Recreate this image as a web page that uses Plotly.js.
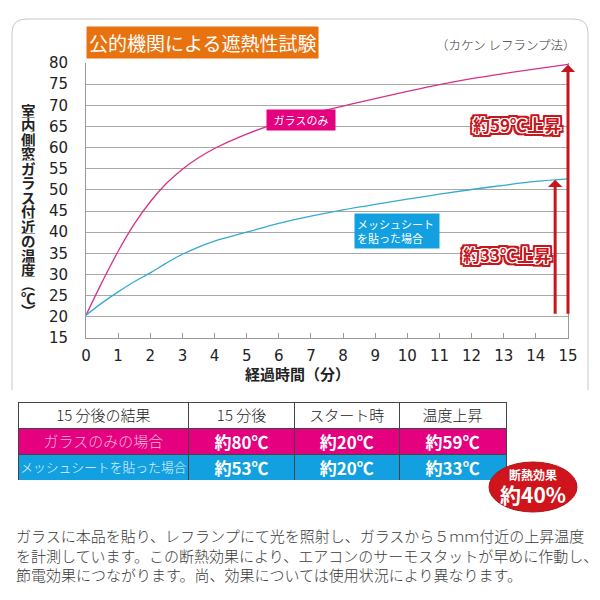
<!DOCTYPE html>
<html><head><meta charset="utf-8">
<script src="https://cdn.plot.ly/plotly-3.0.1.min.js"></script>
<style>html,body{margin:0;padding:0;background:#fff}#chart{width:600px;height:600px}</style>
</head><body><div id="chart"></div>
<script>
// ---- data ----
const minutes   = [0,0.5,1,1.5,2,2.5,3,3.5,4,5,6,7,8,9,10,11,12,13,14,15];
const glassOnly = [20.4,28.2,35.5,41.9,47.2,51.5,54.9,57.6,59.8,63.2,65.9,68,69.8,71.6,73.3,74.9,76.3,77.5,78.6,79.7];
const meshSheet = [20.4,23.3,25.9,28.3,30.4,32.7,34.8,36.5,37.9,40,42.1,43.8,45.3,46.6,47.8,49,50.1,51.1,52,52.6];
const seriesNames = ['ガラスのみ','メッシュシート<br>を貼った場合'];
const xTickVals = [0,1,2,3,4,5,6,7,8,9,10,11,12,13,14,15];
const yTickVals = [15,20,25,30,35,40,45,50,55,60,65,70,75,80];
const riseArrowX    = [15, 14.6];
const riseArrowFrom = [20.4, 20.4];
const riseArrowTo   = [79.6, 52.4];
const riseLabels    = ['約59℃上昇','約33℃上昇'];
const tableHeader = ['15 分後の結果','15 分後','スタート時','温度上昇'];
const caseLabels  = ['ガラスのみの場合','メッシュシートを貼った場合'];
const tempAfter15 = [80,53];
const tempStart   = [20,20];
const tempRise    = [59,33];
const effectLabel = ['断熱効果','約40%'];
const chartTitle = '公的機関による遮熱性試験';
const methodNote = '（カケン レフランプ法）';
const yTitle = '室内側窓ガラス付近の温度︵℃︶';
const xTitle = '経過時間（分）';
const bodyText = 'ガラスに本品を貼り、レフランプにて光を照射し、ガラスから５ｍｍ付近の上昇温度<br>を計測しています。この断熱効果により、エアコンのサーモスタットが早めに作動し、<br>節電効果につながります。尚、効果については使用状況により異なります。';

// ---- styling ----
const JP = '"Noto Sans CJK JP", "Noto Sans", sans-serif';
const MAG = '#e4007f', CYAN = '#12a0e0', RED = '#c8161d';
const PX = (px) => px/600, PY = (py) => 1 - py/600;
const fmt = v => '約' + v + '℃';
const nb = s => s.replace(/ /g, '\u00a0');

const traces = [
  {x: minutes, y: glassOnly, type:'scatter', mode:'lines', line:{color:'#d6318a', width:1.3, shape:'spline', smoothing:1}, hoverinfo:'skip', showlegend:false},
  {x: minutes, y: meshSheet, type:'scatter', mode:'lines', line:{color:'#35aad0', width:1.3, shape:'spline', smoothing:1}, hoverinfo:'skip', showlegend:false},
  {type:'table',
   domain:{x:[PX(18), PX(507)], y:[PY(480), PY(402)]},
   columnwidth:[171,106,105,107],
   header:{values: tableHeader.map(nb), height:26, align:'center',
           fill:{color:'#ffffff'}, line:{color:'#444', width:1},
           font:{family:JP, size:15, color:'#222', weight:300}},
   cells:{values:[caseLabels, tempAfter15.map(fmt), tempStart.map(fmt), tempRise.map(fmt)],
          height:26, align:'center',
          fill:{color:[[MAG,CYAN],[MAG,CYAN],[MAG,CYAN],[MAG,CYAN]]},
          line:{color:'#444', width:1},
          font:{family:JP, size:[[15,12.8],17,17,17], color:[['#f8b4d8','#e6f6ff'],'#fff','#fff','#fff'], weight:[300,700,700,700]}}
  }
];

const ann = [];
// title box
ann.push({xref:'paper', yref:'paper', x:PX(86), y:PY(42), xanchor:'left', yanchor:'middle', text:chartTitle, showarrow:false,
  bgcolor:'#e8720e', borderpad:2, font:{family:JP, size:19, color:'#fff'}});
ann.push({xref:'paper', yref:'paper', x:PX(506), y:PY(44), xanchor:'center', yanchor:'middle', text:methodNote, showarrow:false,
  font:{family:JP, size:12.5, color:'#333', weight:300}});
// vertical y title (upright characters stacked)
const yChars = Array.from(yTitle);
const yPos = [110,124.5,139,153.5,168,182.5,197,211.5,226,240.5,255,269.5,283.5,297,310.5];
yChars.forEach((ch,i) => ann.push({xref:'paper', yref:'paper', x:PX(28), y:PY(yPos[i]), xanchor:'center', yanchor:'middle',
  text:ch, showarrow:false, height:14.5, font:{family:JP, size:14.5, color:'#222', weight:700}}));
// x title
ann.push({xref:'paper', yref:'paper', x:PX(297), y:PY(373), xanchor:'center', yanchor:'middle', text:xTitle, showarrow:false,
  font:{family:JP, size:15, color:'#222', weight:700}});
// series labels
ann.push({xref:'paper', yref:'paper', x:PX(301), y:PY(119.5), xanchor:'center', yanchor:'middle', text:seriesNames[0], showarrow:false,
  bgcolor:MAG, borderpad:2, width:64, font:{family:JP, size:11, color:'#fff'}});
ann.push({xref:'paper', yref:'paper', x:PX(397), y:PY(230.5), xanchor:'center', yanchor:'middle', text:seriesNames[1], showarrow:false,
  bgcolor:CYAN, borderpad:2, width:80, align:'left', font:{family:JP, size:11, color:'#fff'}});
// rise arrows
riseArrowX.forEach((xv,i) => ann.push({xref:'x', yref:'y', axref:'x', ayref:'y', x:xv, y:riseArrowTo[i], ax:xv, ay:riseArrowFrom[i],
  text:'', showarrow:true, arrowhead:1, arrowsize:0.8, arrowwidth:3, arrowcolor:RED, standoff:0, startstandoff:0}));
// rise labels (sticker style)
const dirs = [[1,0],[-1,0],[0,1],[0,-1],[1,1],[-1,1],[1,-1],[-1,-1]];
const shadow = dirs.map(d=>`${d[0]*1.2}px ${d[1]*1.2}px 0 #fff`)
  .concat(dirs.map(d=>`${d[0]*3.2}px ${d[1]*3.2}px 0 ${RED}`))
  .concat([[2,1],[1,2],[-2,1],[-1,2],[2,-1],[1,-2],[-2,-1],[-1,-2]].map(d=>`${d[0]*1.6}px ${d[1]*1.6}px 0 ${RED}`)).join(', ');
const labelPos = [[517,124],[507,254]];
riseLabels.forEach((t,i) => ann.push({xref:'paper', yref:'paper', x:PX(labelPos[i][0]), y:PY(labelPos[i][1]), xanchor:'center', yanchor:'middle',
  text:t, showarrow:false, font:{family:JP, size:17, color:RED, weight:700, shadow:shadow}}));
// effect badge texts
ann.push({xref:'paper', yref:'paper', x:PX(533), y:PY(474), xanchor:'center', yanchor:'middle', text:effectLabel[0], showarrow:false,
  font:{family:JP, size:12, color:'#fff', weight:700}});
ann.push({xref:'paper', yref:'paper', x:PX(533), y:PY(494), xanchor:'center', yanchor:'middle', text:effectLabel[1], showarrow:false,
  font:{family:JP, size:21, color:'#fff', weight:700}});
// body paragraph
ann.push({xref:'paper', yref:'paper', x:PX(14), y:PY(555), xanchor:'left', yanchor:'middle', align:'left', text:bodyText, showarrow:false,
  font:{family:JP, size:15, color:'#3a3a3a', weight:300}});

const f = (px,py) => `${PX(px)},${PY(py)}`;
const shapes = [
  {type:'path', xref:'paper', yref:'paper', layer:'below',
   path:`M ${f(12,390)} L ${f(12,33)} Q ${f(12,19)} ${f(26,19)} L ${f(574,19)} Q ${f(588,19)} ${f(588,33)} L ${f(588,390)}`,
   line:{color:'#c9c9c9', width:1}},
  {type:'circle', xref:'paper', yref:'paper', layer:'above', x0:PX(489), x1:PX(577), y0:PY(512), y1:PY(462),
   fillcolor:'#d0141c', line:{color:'#b01016', width:1}}
];

const layout = {
  width:600, height:600, margin:{l:0,r:0,t:0,b:0}, paper_bgcolor:'#fff', plot_bgcolor:'#fff', showlegend:false,
  xaxis:{domain:[PX(86), PX(568)], range:[0,15], tickvals:xTickVals, ticks:'inside', ticklen:5, tickcolor:'#999',
         showgrid:false, zeroline:false, showline:true, linecolor:'#999', linewidth:1, mirror:false,
         tickfont:{family:'"DejaVu Sans", sans-serif', size:15, color:'#222'}, ticklabelstandoff:4, fixedrange:true},
  yaxis:{domain:[PY(338), PY(63)], range:[15,80], tickvals:yTickVals, ticks:'', showgrid:true, gridcolor:'#a8a8a8', gridwidth:1,
         zeroline:false, showline:true, linecolor:'#999', linewidth:1, mirror:true,
         tickfont:{family:'"DejaVu Sans", sans-serif', size:15, color:'#222'}, ticklabelstandoff:14, fixedrange:true},
  annotations:ann, shapes:shapes
};
Plotly.newPlot('chart', traces, layout, {staticPlot:true, displayModeBar:false});
</script></body></html>
